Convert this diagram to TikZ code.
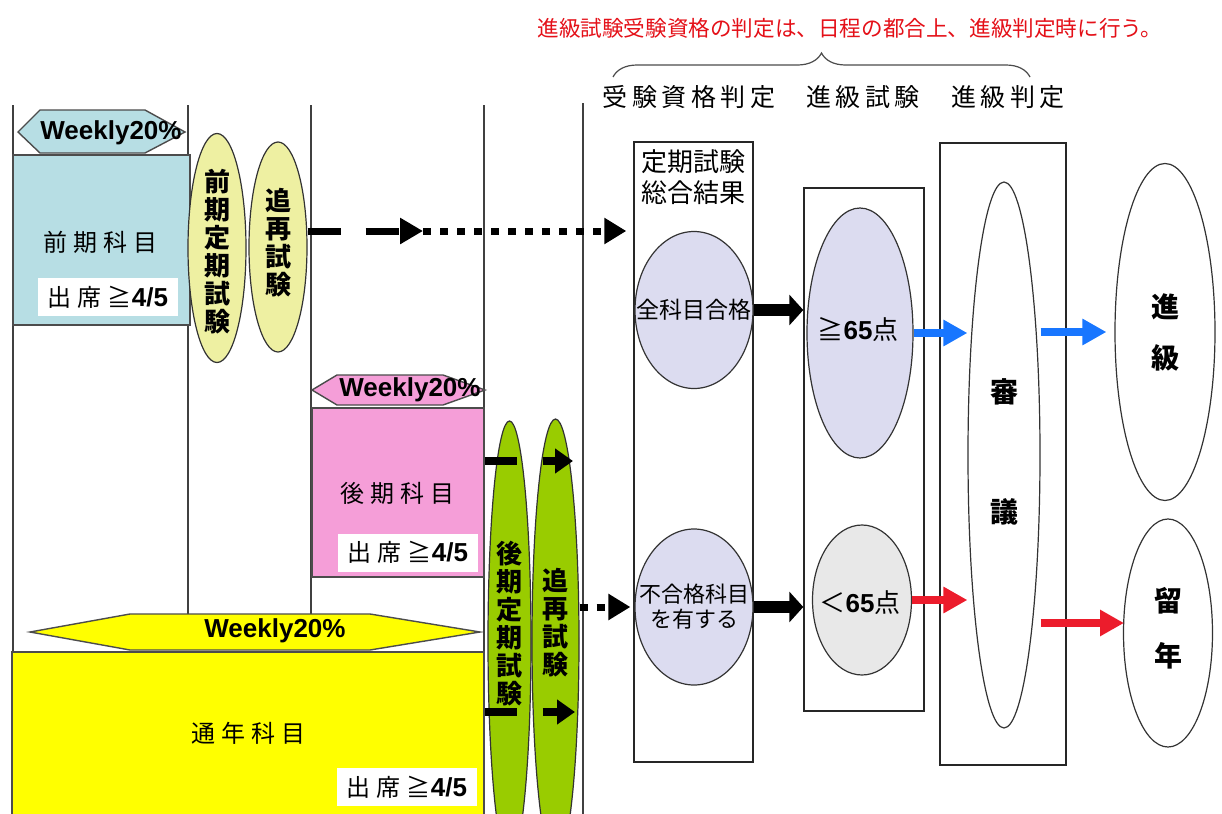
\documentclass[tikz,border=0pt]{standalone}
\usepackage{fontspec}
\setmainfont{Liberation Sans}
\newfontfamily\jp{Noto Sans CJK JP}
\newfontfamily\jpsp[LetterSpace=25]{Noto Sans CJK JP}
\newfontfamily\jphd[LetterSpace=18]{Noto Sans CJK JP}
\usetikzlibrary{shapes.geometric,arrows.meta,decorations.pathreplacing}

\definecolor{zenkiblue}{RGB}{183,222,228}
\definecolor{kokipink}{RGB}{245,158,216}
\definecolor{tsunenyellow}{RGB}{255,255,0}
\definecolor{examyellow}{RGB}{238,240,162}
\definecolor{examgreen}{RGB}{153,204,0}
\definecolor{judgelav}{RGB}{220,220,240}
\definecolor{judgegray}{RGB}{232,232,232}
\definecolor{passblue}{RGB}{24,118,255}
\definecolor{failred}{RGB}{236,28,44}
\definecolor{notered}{RGB}{228,16,24}

\newcommand{\attend}{{\jpsp 出席≧}{\fontsize{13}{15}\selectfont\bfseries 4/5}}

\begin{document}
\begin{tikzpicture}[x=0.5pt,y=-0.5pt,
			lane/.style={draw=black!75,line width=0.7pt},
			subj/.style={rectangle,draw=black!70,line width=0.7pt,inner sep=0},
			tag/.style={draw=black!70,line width=0.7pt},
			wk/.style={inner sep=0,font=\fontsize{13}{15}\selectfont\bfseries},
			subjtext/.style={inner sep=0,font=\jpsp\fontsize{12}{14}\selectfont},
			attbox/.style={fill=white,inner sep=1pt,minimum width=70pt,minimum height=19pt,font=\fontsize{12}{14}\selectfont},
			oval/.style={ellipse,draw=black!80,line width=0.6pt,inner sep=0},
			vtext/.style={align=center,inner sep=0,font=\jp\bfseries\fontsize{13}{14}\selectfont},
			judge/.style={rectangle,draw=black!85,line width=0.7pt,inner sep=0},
			hd/.style={inner sep=0,font=\jphd\fontsize{12.5}{15}\selectfont},
			score/.style={inner sep=0,font=\fontsize{13}{15}\selectfont},
			bigv/.style={align=center,inner sep=0},
			bigdash/.style={line width=3.5pt,dash pattern=on 16.5pt off 12.5pt,-{Triangle[length=11.5pt,width=12.5pt]}},
			bigdot/.style={line width=3.5pt,dash pattern=on 4pt off 4.5pt,-{Triangle[length=11pt,width=12.5pt]}},
			greendash/.style={line width=4pt,dash pattern=on 16pt off 13pt,-{Triangle[length=9pt,width=12pt]}},
			fatarr/.style={line width=6pt,-{Triangle[length=7pt,width=15pt]}},
			passarr/.style={passblue,line width=4pt,-{Triangle[length=12pt,width=12.5pt]}},
			failarr/.style={failred,line width=4pt,-{Triangle[length=12pt,width=12.5pt]}}
		]
		\useasboundingbox (0,0) rectangle (1222,814);

		% lanes
		\draw[lane] (13,105) -- (13,814);
		\draw[lane] (188,105) -- (188,640);
		\draw[lane] (311,105) -- (311,640);
		\draw[lane] (484,105) -- (484,814);
		\draw[lane] (583,103) -- (583,814);

		% note and headers
		\node[font=\jp\fontsize{10.8}{13}\selectfont,text=notered] (note) at (850,28) {進級試験受験資格の判定は、日程の都合上、進級判定時に行う。};
		\draw[black!70,line width=0.6pt,decorate,decoration={brace,amplitude=12pt}] (613,77) -- (1030,77);
		\node[hd] (hq) at (689,97) {受験資格判定};
		\node[hd] (hs) at (863,97) {進級試験};
		\node[hd] (hj) at (1008,97) {進級判定};

		% first half
		\draw[tag,fill=zenkiblue] (18,132) -- (40,110) -- (145,110) -- (185,132) -- (145,153) -- (40,153) -- cycle;
		\node[wk] (wkzenki) at (111,133) {Weekly20\%};
		\node[subj,fill=zenkiblue,minimum width=88.5pt,minimum height=85pt] (zenki) at (101.5,240) {};
		\node[subjtext] (zenkit) at (100,242) {前期科目};
		\node[attbox] (attzenki) at (108,297) {\attend};
		\node[oval,fill=examyellow,minimum width=29pt,minimum height=114.5pt] (zenkiexam) at (217,248) {};
		\node[vtext] (zenkiexamt) at (217,252) {前\\期\\定\\期\\試\\験};
		\node[oval,fill=examyellow,minimum width=29pt,minimum height=105pt] (tsuisaiA) at (278,247) {};
		\node[vtext] (tsuisaiAt) at (278,243) {追\\再\\試\\験};

		% second half
		\draw[tag,fill=kokipink] (312,390) -- (337,375) -- (443,375) -- (485,390) -- (443,405) -- (337,405) -- cycle;
		\node[wk] (wkkoki) at (410,390) {Weekly20\%};
		\node[subj,fill=kokipink,minimum width=86pt,minimum height=84.5pt] (koki) at (398,492.5) {};
		\node[subjtext] (kokit) at (397,493) {後期科目};
		\node[attbox] (attkoki) at (408,552.5) {\attend};

		% whole year
		\draw[tag,fill=tsunenyellow] (30,632) -- (130,614) -- (370,614) -- (480,632) -- (370,650) -- (130,650) -- cycle;
		\node[wk] (wktsunen) at (275,631) {Weekly20\%};
		\node[subj,fill=tsunenyellow,minimum width=236pt,minimum height=90pt] (tsunen) at (248,742) {};
		\node[subjtext] (tsunent) at (248,733) {通年科目};
		\node[attbox] (atttsunen) at (407,787) {\attend};

		\node[oval,fill=examgreen,minimum width=21.5pt,minimum height=220pt] (kokiexam) at (509.5,641) {};
		\node[vtext] (kokiexamt) at (509.5,624) {後\\期\\定\\期\\試\\験};
		\node[oval,fill=examgreen,minimum width=23.5pt,minimum height=222pt] (tsuisaiB) at (555.5,641) {};
		\node[vtext] (tsuisaiBt) at (555.5,623) {追\\再\\試\\験};

		% judging
		\node[judge,minimum width=59.5pt,minimum height=310pt] (kekka) at (693.5,452) {};
		\node[font=\jp\fontsize{13}{15.5}\selectfont,align=center,inner sep=0] (kekkat) at (693,177) {定期試験\\総合結果};
		\node[oval,fill=judgelav,minimum width=59pt,minimum height=78.5pt] (gokaku) at (694,310) {};
		\node[font=\jp\fontsize{11.5}{13}\selectfont,inner sep=0] (gokakut) at (gokaku) {全科目合格};
		\node[oval,fill=judgelav,minimum width=59pt,minimum height=78pt] (fugokaku) at (694,607) {};
		\node[font=\jp\fontsize{11}{12.5}\selectfont,align=center,inner sep=0] (fugokakut) at (fugokaku) {不合格科目\\を有する};

		\node[judge,minimum width=60pt,minimum height=261.5pt] (shiken) at (864,449.5) {};
		\node[oval,fill=judgelav,minimum width=53pt,minimum height=125pt] (ijo) at (860,333) {};
		\node[score] (ijot) at (858,330) {{\jp ≧}\textbf{65}{\jp 点}};
		\node[oval,fill=judgegray,minimum width=49.5pt,minimum height=75pt] (miman) at (862,600) {};
		\node[score] (mimant) at (860,603) {{\jp ＜}\textbf{65}{\jp 点}};

		\node[judge,minimum width=63pt,minimum height=311pt] (hantei) at (1003,454) {};
		\node[oval,fill=white,minimum width=36pt,minimum height=273pt] (shingi) at (1004,455) {};
		\node[bigv,font=\jp\bfseries\fontsize{14}{60}\selectfont] (shingit) at (1004,452) {審\\議};
		\node[oval,minimum width=50pt,minimum height=168.5pt] (shinkyu) at (1165,332) {};
		\node[bigv,font=\jp\bfseries\fontsize{14}{25.5}\selectfont] (shinkyut) at (1165,332) {進\\級};
		\node[oval,minimum width=44.5pt,minimum height=114pt] (ryunen) at (1168,633) {};
		\node[bigv,font=\jp\bfseries\fontsize{14}{27.5}\selectfont] (ryunent) at (1168,628) {留\\年};

		% arrows
		\coordinate (turn) at (423,231);
		\draw[bigdash] (tsuisaiA.east |- turn) -- (turn);
		\draw[bigdot,shorten >=3.5pt] (turn) -- (turn -| kekka.west);
		\coordinate (kokiout) at (573,461);
		\draw[greendash] (koki.east |- kokiout) -- (kokiout);
		\coordinate (tsunenout) at (575,712);
		\draw[greendash] (tsunen.east |- tsunenout) -- (tsunenout);
		\draw[bigdot,shorten >=2pt] (tsuisaiB.east |- fugokaku) -- (fugokaku.west);

		\draw[fatarr] (gokaku.east) -- (gokaku.east -| shiken.west);
		\draw[fatarr] (fugokaku.east) -- (fugokaku.east -| shiken.west);

		\draw[passarr] (ijo.east) -- (ijo.east -| shingi.west);
		\draw[passarr,shorten >=4pt] (shingi.east |- shinkyu.west) -- (shinkyu.west);
		\draw[failarr] (miman.east) -- (miman.east -| shingi.west);
		\coordinate (ryin) at (1124,623);
		\draw[failarr] (shingi.east |- ryin) -- (ryin);
	\end{tikzpicture}
\end{document}
